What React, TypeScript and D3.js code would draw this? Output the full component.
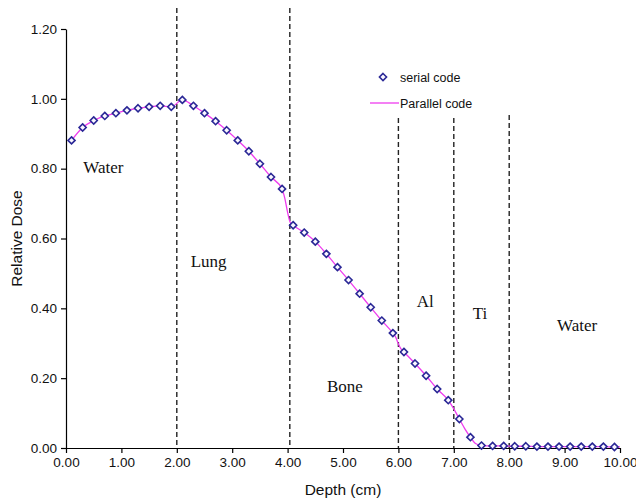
import React, { useEffect, useRef } from "react";
import * as d3 from "d3";

const serialDepth = [0.1, 0.3, 0.5, 0.7, 0.9, 1.1, 1.3, 1.5, 1.7, 1.9, 2.1, 2.3, 2.5, 2.7, 2.9, 3.1, 3.3, 3.5, 3.7, 3.9, 4.1, 4.3, 4.5, 4.7, 4.9, 5.1, 5.3, 5.5, 5.7, 5.9, 6.1, 6.3, 6.5, 6.7, 6.9, 7.1, 7.3, 7.5, 7.7, 7.9, 8.1, 8.3, 8.5, 8.7, 8.9, 9.1, 9.3, 9.5, 9.7, 9.9];
const serialDose = [0.881, 0.918, 0.938, 0.951, 0.959, 0.967, 0.973, 0.977, 0.98, 0.977, 0.997, 0.98, 0.959, 0.936, 0.91, 0.881, 0.85, 0.814, 0.776, 0.742, 0.638, 0.617, 0.591, 0.556, 0.518, 0.481, 0.442, 0.403, 0.365, 0.329, 0.275, 0.242, 0.207, 0.169, 0.137, 0.083, 0.031, 0.007, 0.006, 0.006, 0.005, 0.005, 0.004, 0.004, 0.004, 0.004, 0.004, 0.004, 0.004, 0.003];

const parallelDepth = [0.1, 0.3, 0.5, 0.7, 0.9, 1.1, 1.3, 1.5, 1.7, 1.9, 2.1, 2.3, 2.5, 2.7, 2.9, 3.1, 3.3, 3.5, 3.7, 3.9, 3.95, 4.0, 4.05, 4.1, 4.3, 4.5, 4.7, 4.9, 5.1, 5.3, 5.5, 5.7, 5.9, 5.95, 6.0, 6.05, 6.1, 6.3, 6.5, 6.7, 6.9, 7.0, 7.1, 7.2, 7.3, 7.4, 7.5, 7.7, 7.9, 8.1, 8.3, 8.5, 8.7, 8.9, 9.1, 9.3, 9.5, 9.7, 9.9, 10.0];
const parallelDose = [0.881, 0.918, 0.938, 0.951, 0.959, 0.967, 0.973, 0.977, 0.98, 0.977, 0.997, 0.98, 0.959, 0.936, 0.91, 0.881, 0.85, 0.814, 0.776, 0.742, 0.715, 0.675, 0.645, 0.638, 0.617, 0.591, 0.556, 0.518, 0.481, 0.442, 0.403, 0.365, 0.329, 0.318, 0.298, 0.283, 0.275, 0.242, 0.207, 0.169, 0.137, 0.112, 0.083, 0.055, 0.031, 0.012, 0.007, 0.006, 0.006, 0.005, 0.005, 0.004, 0.004, 0.004, 0.004, 0.004, 0.004, 0.004, 0.003, 0.003];

const xTicks = [0, 1, 2, 3, 4, 5, 6, 7, 8, 9, 10];
const yTicks = [0, 0.2, 0.4, 0.6, 0.8, 1.0, 1.2];

const boundaryDepth = [2.0, 4.04, 6.0, 7.0, 8.0];
const boundaryTop = [1.26, 1.26, 0.945, 0.945, 0.954];

const regionNames = ["Water", "Lung", "Bone", "Al", "Ti", "Water"];
const regionX = [0.312, 2.251, 4.711, 6.33, 7.341, 8.863];
const regionY = [0.788, 0.519, 0.161, 0.405, 0.369, 0.336];

const legendLabels = ["serial code", "Parallel code"];

const W = 636;
const H = 502;
const M = { left: 66, right: 16, top: 29, bottom: 54 };

const SANS = "'Liberation Sans', Arial, sans-serif";
const SERIF = "'Liberation Serif', 'Times New Roman', serif";
const MARKER = "#2a2896";
const LINE = "#ee3cee";

export default function App() {
  const xAxisRef = useRef<SVGGElement>(null);
  const yAxisRef = useRef<SVGGElement>(null);

  const x = d3.scaleLinear().domain([0, 10]).range([M.left, W - M.right]);
  const y = d3.scaleLinear().domain([0, 1.2]).range([H - M.bottom, M.top]);

  useEffect(() => {
    const fmt = d3.format(".2f");
    const xa = d3.select(xAxisRef.current!);
    xa.call(d3.axisBottom(x).tickValues(xTicks).tickFormat((d: any) => fmt(d)).tickSizeInner(5).tickSizeOuter(0).tickPadding(4) as any);
    xa.select(".domain").attr("stroke", "#000").attr("stroke-width", 1.2);
    xa.selectAll(".tick line").attr("stroke", "#000").attr("stroke-width", 1.2);
    xa.selectAll(".tick text").attr("font-family", SANS).attr("font-size", 13.5).attr("fill", "#111");

    const ya = d3.select(yAxisRef.current!);
    ya.call(d3.axisLeft(y).tickValues(yTicks).tickFormat((d: any) => fmt(d)).tickSizeInner(5).tickSizeOuter(0).tickPadding(4) as any);
    ya.select(".domain").attr("stroke", "#000").attr("stroke-width", 1.2);
    ya.selectAll(".tick line").attr("stroke", "#000").attr("stroke-width", 1.2);
    ya.selectAll(".tick text").attr("font-family", SANS).attr("font-size", 13.5).attr("fill", "#111");
  }, []);

  const parallelPts = parallelDepth.map((d, i) => [d, parallelDose[i]] as [number, number]);
  const lineGen = d3
    .line<[number, number]>()
    .x((d) => x(d[0]))
    .y((d) => y(d[1]))
    .curve(d3.curveMonotoneX);

  const diamond = d3.symbol().type(d3.symbolDiamond2).size(32)();

  return (
    <svg width={W} height={H} style={{ position: "absolute", left: 0, top: 0, background: "#fff" }}>
      {boundaryDepth.map((b, i) => (
        <line
          key={"b" + i}
          x1={x(b)}
          x2={x(b)}
          y1={y(boundaryTop[i])}
          y2={y(0)}
          stroke="#222"
          strokeWidth={1.4}
          strokeDasharray="5,3"
        />
      ))}
      <g ref={xAxisRef} transform={`translate(0,${y(0)})`} />
      <g ref={yAxisRef} transform={`translate(${x(0)},0)`} />
      <path d={lineGen(parallelPts) || ""} fill="none" stroke={LINE} strokeWidth={1.3} />
      {serialDepth.map((d, i) => (
        <path
          key={"s" + i}
          d={diamond || ""}
          transform={`translate(${x(d)},${y(serialDose[i])})`}
          fill="#fbf8ff"
          stroke={MARKER}
          strokeWidth={1.6}
        />
      ))}
      {regionNames.map((n, i) => (
        <text key={"r" + i} x={x(regionX[i])} y={y(regionY[i])} fontFamily={SERIF} fontSize={17} fill="#111">
          {n}
        </text>
      ))}
      <g>
        <path d={diamond || ""} transform="translate(383,77)" fill="#fbf8ff" stroke={MARKER} strokeWidth={1.6} />
        <text x={400} y={81.5} fontFamily={SANS} fontSize={12.5} fill="#111">
          {legendLabels[0]}
        </text>
        <line x1={370} x2={399} y1={103} y2={103} stroke={LINE} strokeWidth={1.3} />
        <text x={400} y={107.5} fontFamily={SANS} fontSize={12.5} fill="#111">
          {legendLabels[1]}
        </text>
      </g>
      <text
        transform={`translate(22,${(y(0) + y(1.2)) / 2}) rotate(-90)`}
        textAnchor="middle"
        fontFamily={SANS}
        fontSize={15.5}
        fill="#111"
      >
        Relative Dose
      </text>
      <text x={(x(0) + x(10)) / 2} y={495} textAnchor="middle" fontFamily={SANS} fontSize={15.5} fill="#111">
        Depth (cm)
      </text>
    </svg>
  );
}
